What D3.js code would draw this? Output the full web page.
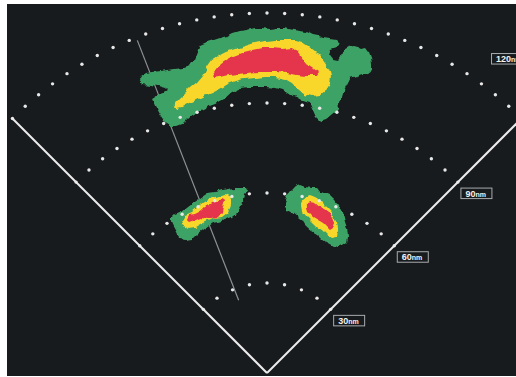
<!DOCTYPE html>
<html>
<head>
<meta charset="utf-8">
<script src="https://cdn.jsdelivr.net/npm/d3@7"></script>
<style>
  html, body { margin: 0; padding: 0; background: #ffffff; }
  svg { display: block; }
</style>
</head>
<body>
<svg id="chart" width="516" height="377"></svg>
<script>
// ---------- DATA (nm east / nm north of the aircraft) ----------
const rangeRings = [30, 60, 90, 120];
const ringUnit = "nm";
const sectorBearings = [-45, 45];      // degrees from heading
const trackBearing = -21.3;            // degrees
const trackRange = [26, 119];          // nm

const northCellGreen = [
  [-42.7,97.7],[-42.0,99.0],[-40.3,100.0],[-38.3,100.3],[-35.7,100.7],[-33.3,101.0],[-30.7,101.3],
  [-28.0,101.7],[-25.7,102.3],[-24.3,104.3],[-23.3,107.0],[-22.3,109.3],[-20.0,110.3],[-17.7,111.0],
  [-15.7,111.7],[-13.3,112.3],[-11.3,113.3],[-9.0,114.0],[-6.7,114.3],[-4.0,115.0],[-1.7,115.0],
  [1.0,114.7],[3.7,115.0],[6.0,115.0],[8.7,114.3],[11.0,114.0],[13.3,113.7],[15.3,112.7],[17.0,112.3],
  [18.7,111.7],[21.0,111.3],[23.0,111.0],[24.3,109.7],[23.3,108.7],[21.3,108.0],[20.7,106.0],
  [22.0,104.3],[23.7,104.0],[24.7,105.7],[25.0,107.3],[25.7,108.0],[27.0,108.7],[29.0,109.0],
  [30.3,108.7],[31.7,108.0],[33.0,108.3],[34.0,107.0],[34.7,105.0],[35.0,103.0],[35.0,101.0],
  [33.7,100.0],[31.7,99.7],[29.7,99.0],[27.7,98.3],[26.7,96.3],[25.7,94.3],[25.0,92.0],[24.3,89.7],
  [23.3,87.7],[21.7,86.3],[19.7,84.7],[17.7,84.0],[16.3,85.3],[15.3,87.7],[14.3,90.0],[12.0,90.7],
  [9.7,92.0],[7.7,92.7],[5.3,94.3],[3.0,95.0],[0.0,95.3],[-3.0,95.3],[-5.7,95.3],[-8.7,95.0],
  [-11.7,93.7],[-14.3,91.3],[-17.3,89.7],[-20.0,88.7],[-22.7,87.3],[-25.3,85.7],[-27.3,83.7],
  [-30.0,82.7],[-32.3,82.7],[-34.3,84.0],[-36.0,86.7],[-37.3,89.0],[-38.3,91.3],[-36.7,92.3],
  [-34.7,93.0],[-33.0,94.0],[-34.0,95.0],[-36.3,95.7],[-39.0,96.0],[-41.7,96.3]
];
const northCellYellow = [
  [-31.0,89.0],[-30.0,90.7],[-28.0,92.7],[-25.7,95.0],[-23.3,97.0],[-21.3,99.3],[-19.7,102.3],
  [-18.3,104.3],[-16.3,105.7],[-13.7,107.0],[-10.7,108.0],[-7.3,109.0],[-4.0,110.0],[-0.7,110.7],
  [2.7,111.0],[6.0,111.0],[9.3,111.0],[11.7,110.3],[13.7,109.0],[16.0,107.3],[17.7,105.7],
  [19.3,103.3],[20.7,101.3],[21.3,99.0],[21.0,96.3],[19.7,94.3],[17.7,92.7],[15.0,92.3],[12.3,93.0],
  [10.3,94.7],[8.3,96.7],[6.0,98.0],[2.7,98.7],[-0.7,98.7],[-4.0,98.3],[-7.3,98.0],[-10.3,97.3],
  [-13.0,96.3],[-15.7,94.7],[-18.3,93.3],[-21.0,92.3],[-23.7,91.0],[-26.3,89.7],[-28.7,88.3],[-30.3,88.0]
];
const northCellRed = [
  [-18.3,99.3],[-17.0,101.3],[-15.3,103.3],[-13.0,105.0],[-10.3,106.0],[-7.7,107.0],[-5.0,107.7],
  [-1.7,108.3],[1.7,108.3],[5.0,108.0],[8.3,108.3],[10.3,107.0],[11.7,105.0],[13.3,103.0],
  [15.3,101.7],[17.0,100.3],[16.0,99.0],[13.3,99.0],[10.0,99.3],[6.7,100.0],[3.3,100.3],[0.0,100.3],
  [-3.3,100.3],[-6.7,100.0],[-9.7,99.7],[-13.0,99.3],[-15.7,98.7],[-17.7,98.3]
];

const westCellGreen = [
  [-31.7,51.7],[-30.7,52.7],[-28.3,53.7],[-26.3,55.3],[-24.0,57.0],[-21.7,58.7],[-19.7,60.0],
  [-17.3,60.3],[-15.0,61.0],[-13.0,61.3],[-10.7,61.7],[-8.3,61.7],[-6.7,61.7],[-6.3,61.0],[-7.3,59.3],
  [-8.0,57.0],[-9.0,55.0],[-10.0,53.3],[-11.7,52.0],[-14.0,51.0],[-16.3,50.3],[-18.3,50.0],[-20.7,48.3],
  [-23.0,46.7],[-25.0,44.7],[-27.3,44.3],[-29.0,44.7],[-30.0,47.0],[-31.3,49.3],[-31.7,50.3]
];
const westCellYellow = [
  [-28.3,51.0],[-27.3,52.7],[-25.0,53.7],[-23.0,55.3],[-20.7,57.0],[-18.3,58.3],[-16.3,59.0],
  [-14.0,59.7],[-12.3,58.7],[-11.7,57.0],[-12.3,55.0],[-13.3,53.3],[-15.0,52.0],[-17.3,51.7],
  [-19.7,51.0],[-21.7,50.0],[-24.0,48.7],[-26.3,48.3],[-28.0,49.3]
];
const westCellRed = [
  [-21.7,54.3],[-20.7,55.3],[-19.0,56.0],[-17.3,57.0],[-16.3,57.7],[-15.0,58.3],[-14.3,58.0],
  [-14.0,57.0],[-14.7,55.3],[-15.0,53.7],[-16.3,52.0],[-18.0,51.7],[-19.7,51.7],[-21.3,52.0],
  [-23.7,51.0],[-25.7,50.3],[-26.7,51.3],[-26.0,52.7],[-24.0,53.0],[-22.7,53.7]
];

const eastCellGreen = [
  [7.7,60.3],[9.3,62.0],[11.0,62.7],[12.7,62.0],[15.0,61.7],[16.7,61.7],[17.7,60.3],[19.3,60.0],
  [21.0,59.3],[22.7,57.7],[24.3,55.3],[25.3,53.3],[26.0,50.3],[26.7,48.3],[27.0,45.3],[26.7,43.7],
  [25.3,42.7],[23.7,42.0],[22.0,42.3],[20.3,43.3],[18.7,44.3],[17.0,46.0],[15.3,47.0],[13.7,48.3],
  [12.7,49.3],[11.7,51.0],[10.3,52.0],[8.7,53.3],[7.0,54.3],[6.0,55.3],[6.0,57.0],[6.7,58.7]
];
const eastCellYellow = [
  [11.7,57.0],[12.7,58.7],[14.3,59.3],[16.0,58.7],[17.7,57.7],[19.3,56.0],[21.0,54.3],[22.0,52.7],
  [23.3,50.3],[23.7,47.7],[23.3,45.3],[21.7,45.0],[20.0,46.0],[18.3,47.7],[16.7,48.7],[15.0,50.3],
  [13.3,52.0],[12.0,53.7],[11.7,55.3]
];
const eastCellRed = [
  [13.3,56.7],[14.3,57.0],[16.0,56.7],[17.7,55.3],[19.3,54.3],[21.0,53.3],[22.0,51.7],[22.7,50.0],
  [22.0,48.3],[21.0,47.7],[20.0,48.7],[18.7,50.0],[17.0,51.0],[15.3,52.0],[13.7,53.7],[13.3,55.0]
];

// intensity levels, drawn lightest first
const levels = ["green", "yellow", "red"];
const cells = [
  { name: "north", green: northCellGreen, yellow: northCellYellow, red: northCellRed },
  { name: "west",  green: westCellGreen,  yellow: westCellYellow,  red: westCellRed },
  { name: "east",  green: eastCellGreen,  yellow: eastCellYellow,  red: eastCellRed }
];

// ---------- LAYOUT ----------
const frame = { x: 7, y: 4, w: 509, h: 372 };
const cx = 267, cy = 373;             // aircraft position (pixels)
const maxR = 360;                     // pixels for 120 nm

const rScale = d3.scaleLinear().domain([0, d3.max(rangeRings)]).range([0, maxR]);
const xScale = d3.scaleLinear().domain([-120, 120]).range([cx - maxR, cx + maxR]);
const yScale = d3.scaleLinear().domain([0, 120]).range([cy, cy - maxR]);
const colour = d3.scaleOrdinal().domain(levels).range(["#3ea266", "#f9d72b", "#e4344d"]);

const rad = d => d * Math.PI / 180;
const polar = (bearing, nm) => [cx + rScale(nm) * Math.sin(rad(bearing)), cy - rScale(nm) * Math.cos(rad(bearing))];

const svg = d3.select("#chart");
const defs = svg.append("defs");
defs.append("clipPath").attr("id", "frameClip").append("rect")
  .attr("x", frame.x).attr("y", frame.y).attr("width", frame.w).attr("height", frame.h);

// ragged radar-return edge
const rough = defs.append("filter").attr("id", "rough")
  .attr("x", "-10%").attr("y", "-10%").attr("width", "120%").attr("height", "120%");
rough.append("feTurbulence").attr("type", "fractalNoise").attr("baseFrequency", 0.13)
  .attr("numOctaves", 2).attr("seed", 11).attr("result", "noise");
rough.append("feDisplacementMap").attr("in", "SourceGraphic").attr("in2", "noise")
  .attr("scale", 5.5).attr("xChannelSelector", "R").attr("yChannelSelector", "G").attr("result", "disp");
rough.append("feGaussianBlur").attr("in", "disp").attr("stdDeviation", 0.5);

svg.append("rect").attr("x", frame.x).attr("y", frame.y).attr("width", frame.w).attr("height", frame.h)
  .attr("fill", "#181b1e");

const g = svg.append("g").attr("clip-path", "url(#frameClip)");

// track / bearing line
g.append("line")
  .attr("x1", polar(trackBearing, trackRange[0])[0]).attr("y1", polar(trackBearing, trackRange[0])[1])
  .attr("x2", polar(trackBearing, trackRange[1])[0]).attr("y2", polar(trackBearing, trackRange[1])[1])
  .attr("stroke", "#8d9296").attr("stroke-width", 1.2);

// weather cells
const line = d3.line().x(d => xScale(d[0])).y(d => yScale(d[1])).curve(d3.curveLinearClosed);
cells.forEach(c => {
  const cg = g.append("g").attr("class", "cell-" + c.name).attr("filter", "url(#rough)");
  levels.forEach(l => {
    cg.append("path").attr("d", line(c[l])).attr("fill", colour(l));
  });
});

// range ring dots
rangeRings.forEach(r => {
  const n = 8 * r / 30;
  const step = (sectorBearings[1] - sectorBearings[0]) / n;
  const pts = d3.range(n + 1).map(k => polar(sectorBearings[0] + k * step, r));
  g.selectAll(null).data(pts).enter().append("circle")
    .attr("cx", d => d[0]).attr("cy", d => d[1]).attr("r", 1.7).attr("fill", "#e8e8e8");
});

// sector edges
sectorBearings.forEach(b => {
  const p = polar(b, d3.max(rangeRings));
  g.append("line").attr("x1", cx).attr("y1", cy).attr("x2", p[0]).attr("y2", p[1])
    .attr("stroke", "#ececec").attr("stroke-width", 2);
});

// range labels
const maxRing = d3.max(rangeRings);
rangeRings.forEach(r => {
  let x, y;
  if (r === maxRing) {
    const p = polar(35, r * 1.085);
    x = p[0]; y = p[1];
  } else {
    const p = polar(sectorBearings[1], r);
    x = p[0] + 2.5; y = p[1] + 5.5;
  }
  const lg = g.append("g").attr("transform", `translate(${x},${y})`);
  lg.append("rect").attr("x", 0.5).attr("y", 0.5).attr("width", r >= 100 ? 34 : 31).attr("height", 10.5)
    .attr("fill", "#181b1e").attr("stroke", "#a9acae").attr("stroke-width", 1);
  const t = lg.append("text").attr("x", 5).attr("y", 9)
    .attr("font-family", "Liberation Sans, Arial, sans-serif").attr("font-weight", "bold")
    .attr("font-size", 9).attr("fill", "#f2f2f2");
  t.append("tspan").text(r);
  t.append("tspan").attr("font-size", 7).text(ringUnit);
});
</script>
</body>
</html>
